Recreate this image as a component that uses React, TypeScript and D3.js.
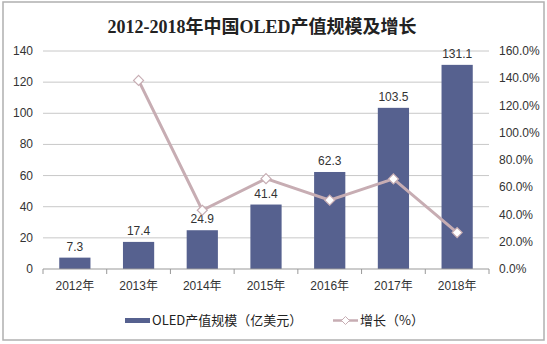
import React from "react";
import * as d3 from "d3";

const categories = ["2012年", "2013年", "2014年", "2015年", "2016年", "2017年", "2018年"];
const outputValues = [7.3, 17.4, 24.9, 41.4, 62.3, 103.5, 131.1];
const growthValues: (number | null)[] = [null, 1.384, 0.431, 0.663, 0.505, 0.661, 0.267];
const leftTicks = [0, 20, 40, 60, 80, 100, 120, 140];
const rightTicks = [0, 0.2, 0.4, 0.6, 0.8, 1.0, 1.2, 1.4, 1.6];
const title = "2012-2018年中国OLED产值规模及增长";
const legendBar = "OLED产值规模（亿美元）";
const legendLine = "增长（%）";

const W = 547, H = 344;
const left = 43, right = 489, top = 51, bottom = 269;
const BAR = "#56618f";
const LINE = "#c7adb3";
const AXF = "Arial, 'Liberation Sans', 'Noto Sans CJK SC', sans-serif";

export default function App() {
  const x = d3.scaleBand<string>().domain(categories).range([left, right]).paddingInner(0.51).paddingOuter(0.255);
  const xb = d3.scaleBand<string>().domain(categories).range([left, right]);
  const y = d3.scaleLinear().domain([0, 140]).range([bottom, top]);
  const y2 = d3.scaleLinear().domain([0, 1.6]).range([bottom, top]);
  const line = d3
    .line<number | null>()
    .defined((d) => d != null)
    .x((_, i) => xb(categories[i])! + xb.bandwidth() / 2)
    .y((d) => y2(d as number));
  const diamond = (cx: number, cy: number, r: number) =>
    `M${cx},${cy - r}L${cx + r},${cy}L${cx},${cy + r}L${cx - r},${cy}Z`;

  return (
    <svg width={W} height={H} style={{ position: "absolute", left: 0, top: 0, background: "#fff" }}>
      <rect x={3} y={2} width={541} height={338} fill="#fff" stroke="#b0b0b0" strokeWidth={1.5} />
      <text x={262} y={33} textAnchor="middle" fontFamily="'Liberation Serif', 'Noto Sans CJK SC', serif" fontWeight="bold" fontSize={18} fill="#222">
        {title}
      </text>
      {leftTicks.map((t) => (
        <g key={t}>
          {t > 0 && <line x1={left} x2={right} y1={y(t)} y2={y(t)} stroke="#c8c8c8" strokeWidth={1} />}
          <text x={33} y={y(t) + 4} textAnchor="end" fontFamily={AXF} fontSize={12} fill="#333">
            {t}
          </text>
        </g>
      ))}
      {rightTicks.map((t) => (
        <text key={t} x={499} y={y2(t) + 4} fontFamily={AXF} fontSize={12} fill="#333">
          {(t * 100).toFixed(1) + "%"}
        </text>
      ))}
      {categories.map((c, i) => (
        <g key={c}>
          <rect x={x(c)} y={y(outputValues[i])} width={x.bandwidth()} height={bottom - y(outputValues[i])} fill={BAR} />
          <text x={x(c)! + x.bandwidth() / 2} y={y(outputValues[i]) - 7} textAnchor="middle" fontFamily={AXF} fontSize={12} fill="#333">
            {outputValues[i].toFixed(1)}
          </text>
          <text x={xb(c)! + xb.bandwidth() / 2} y={290} textAnchor="middle" fontFamily={AXF} fontSize={12} fill="#333">
            {c}
          </text>
        </g>
      ))}
      <line x1={left} x2={right} y1={bottom} y2={bottom} stroke="#999" strokeWidth={1} />
      {categories.concat([""]).map((_, i) => {
        const xx = left + i * xb.step();
        return <line key={i} x1={xx} x2={xx} y1={bottom} y2={bottom + 5} stroke="#999" strokeWidth={1} />;
      })}
      <path d={line(growthValues) || ""} fill="none" stroke={LINE} strokeWidth={3} />
      {growthValues.map((g, i) =>
        g == null ? null : (
          <path key={i} d={diamond(xb(categories[i])! + xb.bandwidth() / 2, y2(g), 5)} fill="#fff" stroke={LINE} strokeWidth={1.2} />
        )
      )}
      <rect x={125} y={318} width={25} height={5} fill={BAR} />
      <text x={152} y={325} fontFamily="'Noto Sans CJK SC', sans-serif" fontSize={13} fill="#222">
        {legendBar}
      </text>
      <line x1={333} x2={358} y1={320.5} y2={320.5} stroke={LINE} strokeWidth={2.5} />
      <path d={diamond(345.5, 320.5, 4)} fill="#fff" stroke={LINE} strokeWidth={1} />
      <text x={360} y={325} fontFamily="'Noto Sans CJK SC', sans-serif" fontSize={13} fill="#222">
        {legendLine}
      </text>
    </svg>
  );
}
